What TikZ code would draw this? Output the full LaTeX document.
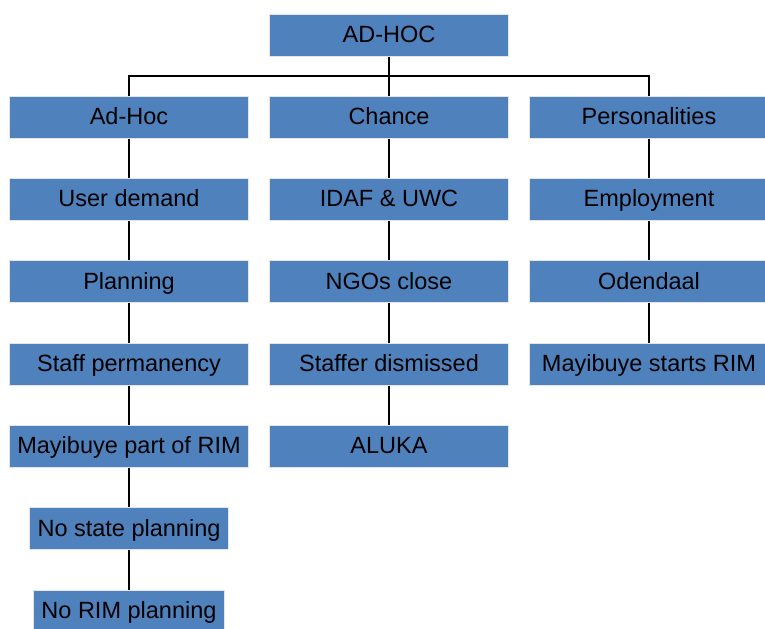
\documentclass[tikz,border=0pt]{standalone}
\usepackage{fontspec}
\setmainfont{Liberation Sans}
\usepackage{tikz}
\usetikzlibrary{calc}
\definecolor{boxblue}{RGB}{79,129,189}

\begin{document}
\begin{tikzpicture}[x=0.5pt,y=-0.5pt,
		box/.style={draw=gray!20, line width=0.5pt, fill=boxblue, minimum width=119.5pt,
			minimum height=21pt, inner xsep=4pt, inner ysep=0pt, text height=10pt, text depth=2.5pt,
			font=\fontsize{11.75}{14}\selectfont},
		link/.style={line width=0.75pt}]
			\useasboundingbox (0,0) rectangle (765,628);
			\coordinate (L) at (129,0);
			\coordinate (M) at (389,0);
			\coordinate (R) at (649,0);
			\coordinate (bus) at (389,76);
			% top
			\node[box] (top) at (389,35) {AD-HOC};
			% left column
			\node[box] (adhoc) at ($(L)+(0,117)$) {Ad-Hoc};
			\node[box] (demand) at ($(L)+(0,199.3)$) {User demand};
			\node[box] (plan) at ($(L)+(0,281.7)$) {Planning};
			\node[box] (staff) at ($(L)+(0,364)$) {Staff permanency};
			\node[box] (part) at ($(L)+(0,446.3)$) {Mayibuye part of RIM};
			\node[box, minimum width=0pt] (state) at ($(L)+(0,528.7)$) {No state planning};
			\node[box, minimum width=0pt] (norim) at ($(L)+(0,611)$) {No RIM planning};
			% middle column
			\node[box] (chance) at ($(M)+(0,117)$) {Chance};
			\node[box] (idaf) at ($(M)+(0,199.3)$) {IDAF \& UWC};
			\node[box] (ngos) at ($(M)+(0,281.7)$) {NGOs close};
			\node[box] (staffer) at ($(M)+(0,364)$) {Staffer dismissed};
			\node[box] (aluka) at ($(M)+(0,446.3)$) {ALUKA};
			% right column
			\node[box] (pers) at ($(R)+(0,117)$) {Personalities};
			\node[box] (employ) at ($(R)+(0,199.3)$) {Employment};
			\node[box] (oden) at ($(R)+(0,281.7)$) {Odendaal};
			\node[box] (starts) at ($(R)+(0,364)$) {Mayibuye starts RIM};
			% connectors
			\draw[link] (top.south) -- (chance.north);
			\draw[link] (adhoc.north) -- (adhoc.north |- bus) -- (pers.north |- bus) -- (pers.north);
			\foreach \a/\b in {adhoc/demand, demand/plan, plan/staff, staff/part, part/state, state/norim,
				chance/idaf, idaf/ngos, ngos/staffer, staffer/aluka,
				pers/employ, employ/oden, oden/starts}
				\draw[link] (\a) -- (\b);
		\end{tikzpicture}
\end{document}
